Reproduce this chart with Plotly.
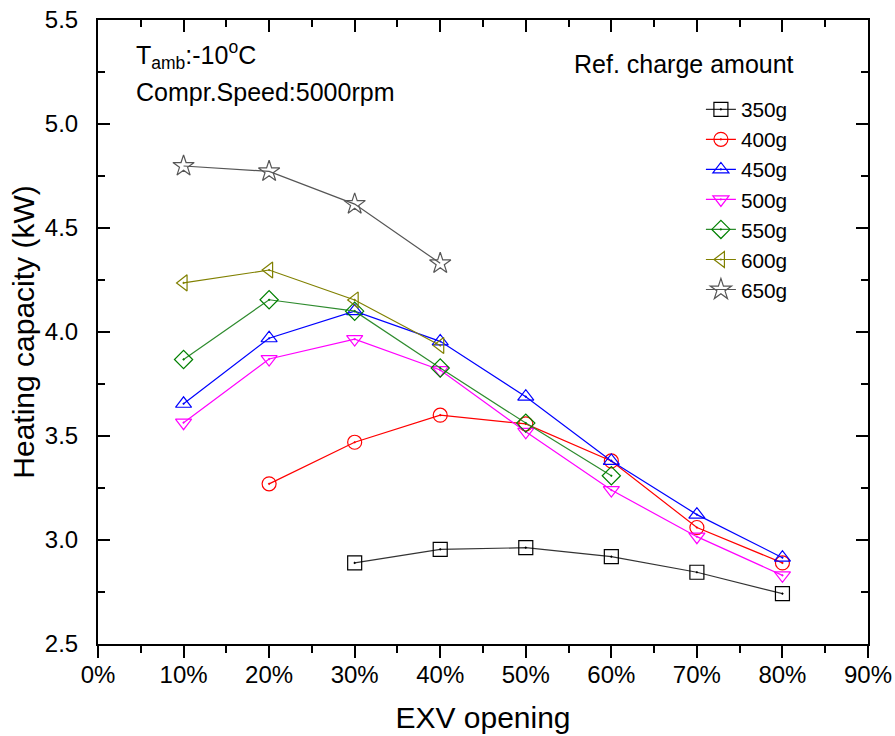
import plotly.graph_objects as go

x_open = [0.1, 0.2, 0.3, 0.4, 0.5, 0.6, 0.7, 0.8]

labels = ["350g", "400g", "450g", "500g", "550g", "600g", "650g"]

cap_350 = [None, None, 2.89, 2.955, 2.963, 2.92, 2.845, 2.742]
cap_400 = [None, 3.27, 3.47, 3.60, 3.558, 3.38, 3.06, 2.89]
cap_450 = [3.655, 3.97, 4.10, 3.955, 3.689, 3.38, 3.122, 2.915]
cap_500 = [3.564, 3.87, 3.966, 3.817, 3.52, 3.24, 3.016, 2.83]
cap_550 = [3.868, 4.155, 4.10, 3.827, 3.562, 3.309, None, None]
cap_600 = [4.236, 4.298, 4.154, 3.935, None, None, None, None]
cap_650 = [4.798, 4.772, 4.615, 4.33, None, None, None, None]

series = [cap_350, cap_400, cap_450, cap_500, cap_550, cap_600, cap_650]
colors = ["#000000", "#ff0000", "#0000ff", "#ff00ff", "#008000", "#808000", "#555555"]
line_colors = ["#333333", "#ff0000", "#0000ff", "#ff00ff", "#2e8b2e", "#808000", "#555555"]
symbols = ["square-open-dot", "circle-open-dot", "triangle-up-open-dot", "triangle-down-open-dot",
           "diamond-open-dot", "triangle-left-open-dot", "star-open"]

FONT = "Liberation Sans, Arial, sans-serif"

fig = go.Figure()
for i, (lab, vals) in enumerate(zip(labels, series)):
    xs = [x for x, v in zip(x_open, vals) if v is not None]
    ys = [v for v in vals if v is not None]
    fig.add_trace(go.Scatter(
        x=xs, y=ys, name=lab, mode="lines+markers",
        line=dict(color=line_colors[i], width=1.2),
        marker=dict(symbol=symbols[i], size=14 if i != 6 else 16,
                    color=colors[i], line=dict(color=colors[i], width=1.2)),
    ))

# invisible helper trace on the top axis so it is drawn with inside ticks
fig.add_trace(go.Scatter(x=[x_open[0]], y=[None], xaxis="x2", mode="markers",
                         showlegend=False, hoverinfo="skip",
                         marker=dict(opacity=0)))

fig.update_layout(
    width=895, height=736,
    margin=dict(l=98, r=27, t=20, b=92),
    plot_bgcolor="white", paper_bgcolor="white",
    font=dict(family=FONT, size=24, color="black"),
    showlegend=True,
    legend=dict(x=0.783, y=0.889, xanchor="left", yanchor="top",
                bgcolor="rgba(0,0,0,0)", font=dict(size=20.8, family=FONT),
                traceorder="normal", itemwidth=30, tracegroupgap=0),
    xaxis=dict(range=[0, 0.9], dtick=0.1, tick0=0, tickformat=".0%",
               showline=True, linecolor="black", linewidth=2,
               ticks="outside", ticklen=12, tickwidth=2, tickcolor="black",
               minor=dict(ticks="outside", dtick=0.05, ticklen=7, tickwidth=2, tickcolor="black"),
               showgrid=False, zeroline=False, mirror=False, automargin=False,
               ticklabelstandoff=-4, ticklabeloverflow="allow",
               title=dict(text="EXV opening", font=dict(size=30), standoff=20),
               tickfont=dict(size=24)),
    xaxis2=dict(range=[0, 0.9], dtick=0.1, tick0=0, overlaying="x", side="top",
                showline=True, linecolor="black", linewidth=2,
                ticks="inside", ticklen=12, tickwidth=2, tickcolor="black",
                minor=dict(ticks="inside", dtick=0.05, ticklen=7, tickwidth=2, tickcolor="black"),
                showticklabels=False, showgrid=False, zeroline=False),
    yaxis=dict(range=[2.5, 5.5], dtick=0.5, tick0=2.5, tickformat=".1f",
               showline=True, linecolor="black", linewidth=2,
               ticks="inside", ticklen=12, tickwidth=2, tickcolor="black",
               minor=dict(ticks="inside", dtick=0.25, ticklen=7, tickwidth=2, tickcolor="black"),
               showgrid=False, zeroline=False, mirror="ticks", automargin=False,
               ticklabelstandoff=13, ticklabeloverflow="allow",
               title=dict(text="Heating capacity (kW)", font=dict(size=30), standoff=1),
               tickfont=dict(size=24)),
)


def px_x(p):
    return (p - 98) / 770.0


def px_y(p):
    return (644 - p) / 624.0


fig.add_annotation(x=px_x(134), y=px_y(55), xref="paper", yref="paper",
                   text="T<sub>amb</sub>:-10<sup>o</sup>C", showarrow=False,
                   xanchor="left", yanchor="middle", font=dict(size=25, family=FONT))
fig.add_annotation(x=px_x(134), y=px_y(92), xref="paper", yref="paper",
                   text="Compr.Speed:5000rpm", showarrow=False,
                   xanchor="left", yanchor="middle", font=dict(size=25, family=FONT))
fig.add_annotation(x=px_x(572), y=px_y(64), xref="paper", yref="paper",
                   text="Ref. charge amount", showarrow=False,
                   xanchor="left", yanchor="middle", font=dict(size=25, family=FONT))

fig.write_html("out.html", config={"displayModeBar": False},
               post_script="document.body.style.margin='0';")
